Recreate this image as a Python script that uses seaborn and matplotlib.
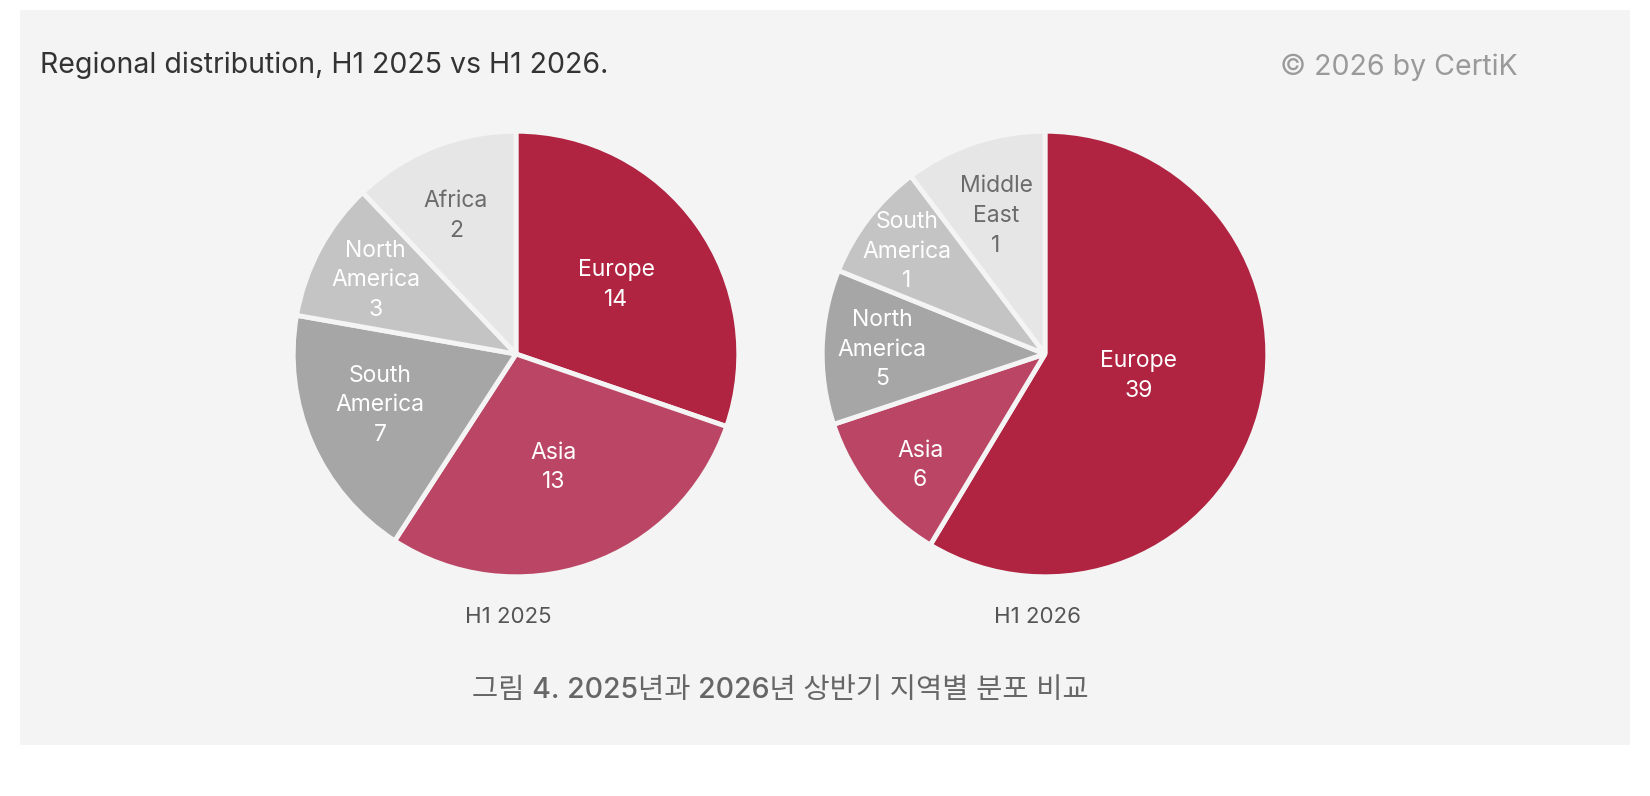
import matplotlib
matplotlib.use("Agg")
import matplotlib.pyplot as plt
import seaborn as sns
from matplotlib.patches import Rectangle

sns.set_theme(style="white")
plt.rcParams['font.family'] = ['Inter', 'Noto Sans CJK KR', 'DejaVu Sans']

BG = "#f4f4f4"
RED = "#b02442"
ROSE = "#bb4564"
grays = sns.color_palette(["#a6a6a6", "#c4c4c4", "#e6e6e6"])

# counts shown in labels; slice spans (degrees) as drawn in the original,
# which does not size the slices in proportion to the counts
h1_2025 = {
    "labels": ["Europe", "Asia", "South\nAmerica", "North\nAmerica", "Africa"],
    "values": [14, 13, 7, 3, 2],
    "span": [109, 104, 67, 36.5, 43.5],
    "pos": [(0.45, 0.31), (0.17, -0.51), (-0.61, -0.23), (-0.63, 0.33), (-0.27, 0.62)],
}
h1_2026 = {
    "labels": ["Europe", "Asia", "North\nAmerica", "South\nAmerica", "Middle\nEast"],
    "values": [39, 6, 5, 1, 1],
    "span": [211, 40.6, 40.4, 31, 37],
    "pos": [(0.42, -0.10), (-0.56, -0.50), (-0.73, 0.02), (-0.62, 0.46), (-0.22, 0.62)],
}

W, H = 1650, 796
fig = plt.figure(figsize=(16.5, 7.96), dpi=100)
fig.patch.set_facecolor("white")
fig.add_artist(Rectangle((20 / W, 1 - 745 / H), 1610 / W, 735 / H,
                         transform=fig.transFigure, facecolor=BG, edgecolor="none", zorder=-10))


def draw_pie(cx, cy, data, name):
    r = 225
    ax = fig.add_axes([(cx - r) / W, (H - cy - r) / H, 2 * r / W, 2 * r / H])
    ax.set_facecolor("none")
    colors = [RED, ROSE] + list(grays)
    ax.pie(data["span"], colors=colors, startangle=90, counterclock=False,
           radius=1, wedgeprops=dict(edgecolor=BG, linewidth=3.5, joinstyle="bevel"))
    for i, (lab, v, (dx, dy)) in enumerate(zip(data["labels"], data["values"], data["pos"])):
        c = "#6b6b6b" if i == 4 else "white"
        ax.text(dx, dy, f"{lab}\n{v}", ha="center", va="center", color=c,
                fontsize=16.5, linespacing=1.45)
    ax.set_xlim(-1.01, 1.01)
    ax.set_ylim(-1.01, 1.01)
    ax.axis("off")
    fig.text(cx / W - 8 / W, 1 - 617 / H, name, ha="center", va="center",
             fontsize=16, color="#555555")


draw_pie(516, 354, h1_2025, "H1 2025")
draw_pie(1045, 354, h1_2026, "H1 2026")

fig.text(40 / W, 1 - 65 / H, "Regional distribution, H1 2025 vs H1 2026.",
         ha="left", va="center", fontsize=20.5, color="#333333")
fig.text(1518 / W, 1 - 67 / H, "© 2026 by CertiK", ha="right", va="center",
         fontsize=20.5, color="#9a9a9a")
fig.text(780 / W, 1 - 690 / H, "그림 4. 2025년과 2026년 상반기 지역별 분포 비교",
         ha="center", va="center", fontsize=20.5, color="#666666", fontweight="medium")

plt.savefig("out.png", dpi=100, facecolor="white")
